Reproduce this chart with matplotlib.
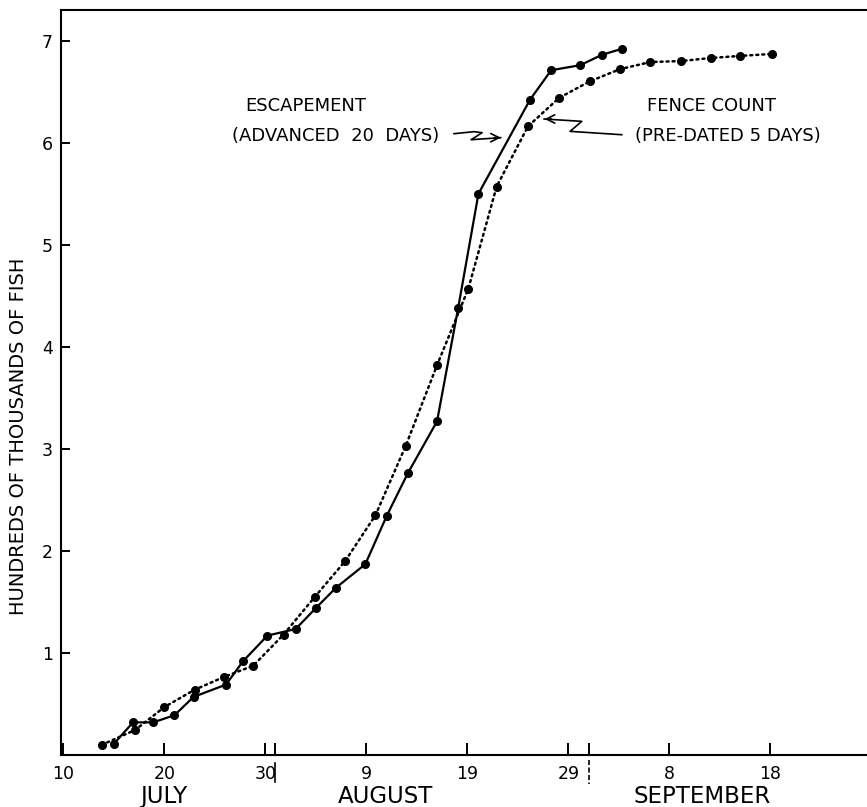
import matplotlib
matplotlib.use("Agg")
import matplotlib.pyplot as plt

# ---- data (day index: July d = d, August d = 31+d, September d = 62+d) ----
esc_day = [15.0, 16.9, 18.9, 21.0, 22.9, 26.1, 27.8, 30.2, 33.0, 35.0, 37.0,
           39.9, 42.0, 44.1, 47.0, 49.1, 51.1, 56.2, 58.3, 61.2, 63.3, 65.3]
esc_val = [0.11, 0.32, 0.32, 0.39, 0.57, 0.69, 0.92, 1.17, 1.235, 1.44, 1.64,
           1.87, 2.34, 2.76, 3.27, 4.385, 5.50, 6.42, 6.71, 6.76, 6.86, 6.92]

fence_day = [13.8, 17.1, 20.0, 23.0, 25.9, 28.8, 31.8, 34.9, 37.9, 40.9, 43.9,
             47.0, 50.1, 52.9, 56.0, 59.1, 62.1, 65.1, 68.1, 71.2, 74.1, 77.0, 80.2]
fence_val = [0.10, 0.245, 0.47, 0.64, 0.765, 0.875, 1.18, 1.55, 1.90, 2.35, 3.03,
             3.82, 4.57, 5.57, 6.16, 6.44, 6.60, 6.72, 6.79, 6.80, 6.83, 6.85, 6.87]

xtick_pos = [10, 20, 30, 40, 50, 60, 70, 80]
xtick_lab = ["10", "20", "30", "9", "19", "29", "8", "18"]
month_bounds = [31, 62]
month_names = ["JULY", "AUGUST", "SEPTEMBER"]
month_pos = [19.9, 41.9, 73.2]
ytick_pos = [1, 2, 3, 4, 5, 6, 7]

plt.rcParams['font.family'] = ['DejaVu Sans']

fig = plt.figure(figsize=(8.67, 8.07), dpi=100)
ax = fig.add_axes([0.0704, 0.0644, 0.9296, 0.9232])

ax.set_xlim(9.77, 89.57)
ax.set_ylim(0, 7.30)

# fence count: dotted with dots
ax.plot(fence_day, fence_val, color='black', lw=1.8, linestyle=(0, (0.8, 1.6)),
        dash_capstyle='round', marker='o', markersize=5.5, zorder=3)
# escapement: solid
ax.plot(esc_day, esc_val, color='black', lw=1.6, linestyle='-',
        marker='o', markersize=5.5, zorder=4)

# spines
for s in ['left', 'bottom', 'top']:
    ax.spines[s].set_linewidth(1.5)
ax.spines['right'].set_visible(False)

ax.set_xticks(xtick_pos)
ax.set_xticklabels(xtick_lab)
ax.set_xticks(month_bounds, minor=True)
ax.tick_params(axis='x', which='major', direction='in', length=9, width=1.4,
               labelsize=12.5, pad=7)
ax.tick_params(axis='x', which='minor', direction='in', length=9, width=1.4)
ax.set_yticks(ytick_pos)
ax.tick_params(axis='y', direction='in', length=6.5, width=1.4, labelsize=12.5, pad=6)

# month boundary marks below the axis
ax.plot([month_bounds[0]] * 2, [-0.08, -0.26], color='black', lw=1.2,
        clip_on=False)
ax.plot([month_bounds[1]] * 2, [-0.05, -0.28], color='black', lw=1.2,
        linestyle=(0, (3, 1.5)), clip_on=False)

# month names
for name, pos in zip(month_names, month_pos):
    ax.text(pos, -0.41, name, ha='center', va='center', fontsize=16.5,
            clip_on=False)

ax.set_ylabel("HUNDREDS OF THOUSANDS OF FISH", fontsize=14)
ax.yaxis.set_label_coords(-0.041, 0.428)

# annotations
ax.text(28.0, 6.36, "ESCAPEMENT", ha='left', va='center', fontsize=13)
ax.text(26.7, 6.07, "(ADVANCED  20  DAYS)", ha='left', va='center', fontsize=13)
ax.text(67.8, 6.36, "FENCE COUNT", ha='left', va='center', fontsize=13)
ax.text(66.6, 6.07, "(PRE-DATED 5 DAYS)", ha='left', va='center', fontsize=13)

# squiggly arrows
ax.plot([48.68, 50.66, 51.46, 50.37, 53.3], [6.088, 6.108, 6.098, 6.029, 6.049],
        color='black', lw=1.2)
ax.annotate("", xy=(53.6, 6.049), xytext=(52.4, 6.049),
            arrowprops=dict(arrowstyle='->', color='black', lw=1.2, mutation_scale=15))
ax.plot([65.29, 60.17, 61.33, 57.6], [6.078, 6.111, 6.209, 6.232],
        color='black', lw=1.2)
ax.annotate("", xy=(57.37, 6.232), xytext=(58.6, 6.232),
            arrowprops=dict(arrowstyle='->', color='black', lw=1.2, mutation_scale=15))

fig.savefig("out.png", dpi=100)
